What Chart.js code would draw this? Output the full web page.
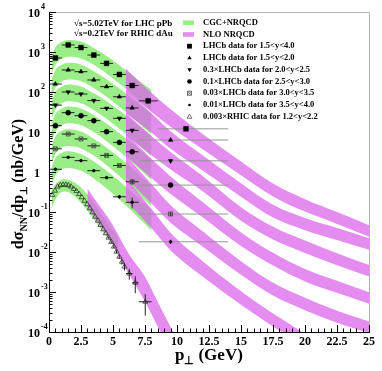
<!DOCTYPE html>
<html><head><meta charset="utf-8">
<script src="https://cdn.jsdelivr.net/npm/chart.js@4.4.1/dist/chart.umd.min.js"></script>
<style>html,body{margin:0;padding:0;background:#fff}#wrap{width:382px;height:371px;position:relative}</style>
</head><body><div id="wrap"><canvas id="c"></canvas></div>
<script>
// ===== data =====
// LHCb p_T bins
const ptS1 = [0.5,1.5,2.5,3.5,4.5,5.5,6.5,7.75,10.7];
const binLoS1 = [0,1,2,3,4,5,6,7,8.5];
const binHiS1 = [1,2,3,4,5,6,7,8.5,14];
const ptBins = [0.5,1.5,2.5,3.5,4.5,5.5,6.5,9.5];
const binLo = [0,1,2,3,4,5,6,7];
const binHi = [1,2,3,4,5,6,7,14];
// dσ/dp⊥ (nb/GeV)
const lhcb15to40 = [708,1500,1290,840,520,275,145,60,12];
const lhcb15to20 = [158,355,322,200,136,76,40,6.3];
const lhcb20to25 = [47,100,89,61,39,22,11,1.9];
const lhcb25to30 = [14.4,30.4,25.6,19.2,10.2,5.5,3.2,0.47];
const lhcb30to35 = [3.8,8.9,6.7,4.5,2.6,1.45,0.57,0.089];
const lhcb35to40 = [1.17,2.33,1.92,1.08,0.72,0.24,0.175,0.018];
// relative vertical errors
const errS1 = [0.03,0.03,0.03,0.03,0.03,0.03,0.04,0.05,0.08];
const errS2 = [0.03,0.03,0.03,0.03,0.03,0.04,0.05,0.08];
const errS3 = [0.03,0.03,0.03,0.03,0.03,0.04,0.05,0.08];
const errS4 = [0.03,0.03,0.03,0.03,0.03,0.04,0.05,0.08];
const errS5 = [0.04,0.04,0.04,0.04,0.05,0.06,0.15,0.1];
const errS6 = [0.05,0.05,0.05,0.05,0.06,0.1,0.3,0.12];
// RHIC (x0.003)
const ptRhic = [0.26,0.47,0.68,0.89,1.1,1.31,1.51,1.72,1.94,2.14,2.35,2.56,2.77,2.98,3.19,3.39,3.6,3.82,4.02,4.23,4.44,4.65,4.86,5.07,5.27,5.49,5.7,5.9,6.27,6.74,7.52];
const rhic = [0.266,0.34,0.43,0.47,0.48,0.48,0.465,0.43,0.376,0.335,0.28,0.233,0.19,0.156,0.124,0.098,0.076,0.0606,0.0473,0.0369,0.0293,0.0228,0.0178,0.0136,0.0102,0.0076,0.0057,0.0043,0.0029,0.0017,0.00057];
const errRhic = [0,0,0,0,0,0,0,0,0,0,0,0,0,0,0,0,0,0,0,0,0,0.05,0.06,0.08,0.1,0.12,0.15,0.2,0.3,0.45,0.55];
const xErrRhic = [0,0,0,0,0,0,0,0,0,0,0,0,0,0,0,0,0,0,0,0,0,0,0,0,0,0,0,0,0.25,0.25,0.5];

// CGC+NRQCD bands, log10 of dσ/dp⊥ (nb/GeV)
const cgcPt = [0.2,0.5,1.0,1.5,2.5,3.5,4.5,5.5,6.5,7.5,8.0];
const cgcHiLog1 = [2.88,3.12,3.25,3.30,3.26,3.10,2.90,2.67,2.42,2.17,2.06];
const cgcLoLog1 = [2.44,2.68,2.83,2.88,2.84,2.68,2.46,2.21,1.94,1.67,1.54];
const cgcHiLog2 = [2.30,2.55,2.68,2.73,2.69,2.52,2.32,2.09,1.84,1.58,1.47];
const cgcLoLog2 = [1.86,2.11,2.26,2.31,2.27,2.10,1.88,1.63,1.36,1.08,0.95];
const cgcHiLog3 = [1.75,2.00,2.14,2.19,2.14,1.97,1.77,1.54,1.29,1.03,0.91];
const cgcLoLog3 = [1.31,1.56,1.72,1.77,1.72,1.55,1.33,1.08,0.81,0.53,0.39];
const cgcHiLog4 = [1.20,1.45,1.59,1.64,1.59,1.42,1.21,0.97,0.72,0.45,0.32];
const cgcLoLog4 = [0.76,1.01,1.17,1.22,1.17,1.00,0.77,0.51,0.24,-0.05,-0.20];
const cgcHiLog5 = [0.64,0.89,1.03,1.07,1.01,0.83,0.61,0.36,0.09,-0.20,-0.34];
const cgcLoLog5 = [0.20,0.45,0.61,0.65,0.59,0.41,0.17,-0.10,-0.39,-0.70,-0.86];
const cgcHiLog6 = [0.10,0.35,0.48,0.52,0.45,0.26,0.03,-0.23,-0.51,-0.80,-0.94];
const cgcLoLog6 = [-0.34,-0.09,0.06,0.10,0.03,-0.16,-0.41,-0.69,-0.99,-1.30,-1.46];
const cgcRhicPt = [0.2,0.7,1.25,2.3,3.35,4.4,5.4];
const cgcRhicHiLog = [-0.45,-0.24,-0.18,-0.33,-0.70,-1.20,-1.62];
const cgcRhicLoLog = [-0.90,-0.58,-0.49,-0.70,-1.12,-1.58,-1.95];

// NLO NRQCD bands, log10
const nloPt = [6,8,9.5,12,15,17.5,20,22.5,25];
const nloHiLog1 = [2.58,1.98,1.57,0.95,0.26,-0.29,-0.68,-1.00,-1.33];
const nloLoLog1 = [2.02,1.50,1.13,0.57,-0.08,-0.61,-0.99,-1.30,-1.62];
const nloHiLog2 = [2.03,1.47,1.02,0.42,-0.28,-0.82,-1.15,-1.40,-1.655];
const nloLoLog2 = [1.47,0.99,0.58,0.04,-0.62,-1.14,-1.455,-1.70,-1.945];
const nloHiLog3 = [1.48,0.90,0.50,-0.10,-0.88,-1.37,-1.715,-2.03,-2.325];
const nloLoLog3 = [0.92,0.42,0.06,-0.48,-1.22,-1.69,-2.025,-2.33,-2.615];
const nloHiLog4 = [0.96,0.33,-0.11,-0.75,-1.51,-2.02,-2.425,-2.72,-3.005];
const nloLoLog4 = [0.40,-0.15,-0.55,-1.13,-1.85,-2.34,-2.735,-3.02,-3.295];
const nloHiLog5 = [0.41,-0.30,-0.83,-1.48,-2.23,-2.77,-3.145,-3.47,-3.735];
const nloLoLog5 = [-0.15,-0.78,-1.27,-1.86,-2.57,-3.09,-3.455,-3.77,-4.025];
const nloPt6 = [6,8,9.5,12,15,17.5,20];
const nloHiLog6 = [-0.15,-0.92,-1.52,-2.23,-2.98,-3.54,-4.045];
const nloLoLog6 = [-0.71,-1.40,-1.96,-2.61,-3.32,-3.86,-4.355];
const nloRhicPt = [3.0,4.0,4.9,6.2,7.5,8.5,10.0];
const nloRhicHiLog = [-0.41,-0.87,-1.28,-2.03,-2.62,-3.25,-4.19];
const nloRhicLoLog = [-0.87,-1.33,-1.78,-2.53,-3.24,-3.87,-4.8];

// ticks
const xTicks = [0,2.5,5,7.5,10,12.5,15,17.5,20,22.5,25];
const xTickLabels = ['0','2.5','5','7.5','10','12.5','15','17.5','20','22.5','25'];
const yTicks = [1e-4,1e-3,1e-2,1e-1,1,10,100,1000,10000];
const yTickBase = ['10','10','10','10','1','10','10','10','10'];
const yTickExp = ['-4','-3','-2','-1','','','2','3','4'];

const legendLabels = ['CGC+NRQCD','NLO NRQCD','LHCb data for 1.5<y<4.0','LHCb data for 1.5<y<2.0',
 '0.3\u00d7LHCb data for 2.0<y<2.5','0.1\u00d7LHCb data for 2.5<y<3.0','0.03\u00d7LHCb data for 3.0<y<3.5',
 '0.01\u00d7LHCb data for 3.5<y<4.0','0.003\u00d7RHIC data for 1.2<y<2.2'];

// ===== styles =====
const GREEN = 'rgb(155,238,135)';
const PURPLE = 'rgba(219,102,235,0.75)';
const SERIF = '"Liberation Serif","Times New Roman",serif';

const datasets = [];
function band(pt, loLog, hiLog, color, order){
  datasets.push({data: pt.map((p,i)=>({x:p,y:Math.pow(10,loLog[i])})), borderWidth:0, borderColor:'transparent',
    pointRadius:0, fill:false, order, cubicInterpolationMode:'monotone'});
  datasets.push({data: pt.map((p,i)=>({x:p,y:Math.pow(10,hiLog[i])})), borderWidth:0, borderColor:'transparent',
    pointRadius:0, fill:'-1', backgroundColor:color, order, cubicInterpolationMode:'monotone'});
}
band(cgcPt,cgcLoLog1,cgcHiLog1,GREEN,4);
band(cgcPt,cgcLoLog2,cgcHiLog2,GREEN,4);
band(cgcPt,cgcLoLog3,cgcHiLog3,GREEN,4);
band(cgcPt,cgcLoLog4,cgcHiLog4,GREEN,4);
band(cgcPt,cgcLoLog5,cgcHiLog5,GREEN,4);
band(cgcPt,cgcLoLog6,cgcHiLog6,GREEN,4);
band(cgcRhicPt,cgcRhicLoLog,cgcRhicHiLog,GREEN,4);
band(nloPt,nloLoLog1,nloHiLog1,PURPLE,3);
band(nloPt,nloLoLog2,nloHiLog2,PURPLE,3);
band(nloPt,nloLoLog3,nloHiLog3,PURPLE,3);
band(nloPt,nloLoLog4,nloHiLog4,PURPLE,3);
band(nloPt,nloLoLog5,nloHiLog5,PURPLE,3);
band(nloPt6,nloLoLog6,nloHiLog6,PURPLE,3);
band(nloRhicPt,nloRhicLoLog,nloRhicHiLog,PURPLE,3);

// error bars
const shortBars = [], longBars = [];
function errs(pt, lo, hi, val, err){
  pt.forEach((p,i)=>{
    const v = val[i];
    if (hi[i] - lo[i] > 0) {
      const tgt = (hi[i]-lo[i] > 2) ? longBars : shortBars;
      tgt.push({x:lo[i],y:v},{x:hi[i],y:v},{x:hi[i],y:null});
    }
    if (err[i] > 0) shortBars.push({x:p,y:v*(1-err[i])},{x:p,y:v*(1+err[i])},{x:p,y:null});
  });
}
errs(ptS1,binLoS1,binHiS1,lhcb15to40,errS1);
errs(ptBins,binLo,binHi,lhcb15to20,errS2);
errs(ptBins,binLo,binHi,lhcb20to25,errS3);
errs(ptBins,binLo,binHi,lhcb25to30,errS4);
errs(ptBins,binLo,binHi,lhcb30to35,errS5);
errs(ptBins,binLo,binHi,lhcb35to40,errS6);
errs(ptRhic, ptRhic.map((p,i)=>p-xErrRhic[i]), ptRhic.map((p,i)=>p+xErrRhic[i]), rhic, errRhic);
datasets.push({data:longBars, borderColor:'#959595', borderWidth:1, pointRadius:0, fill:false, spanGaps:false, order:2});
datasets.push({data:shortBars, borderColor:'#222', borderWidth:1, pointRadius:0, fill:false, spanGaps:false, order:1});

function pts(pt, val, style, r, opts){
  datasets.push(Object.assign({data: pt.map((p,i)=>({x:p,y:val[i]})), showLine:false, pointStyle:style,
    pointRadius:r, pointBackgroundColor:'#000', pointBorderColor:'#000', pointBorderWidth:0.5, order:0}, opts||{}));
}
pts(ptS1, lhcb15to40, 'rect', 3.4);
pts(ptBins, lhcb15to20, 'triangle', 2.6);
pts(ptBins, lhcb20to25, 'triangle', 2.6, {pointRotation:180});
pts(ptBins, lhcb25to30, 'circle', 2.5);
pts(ptBins, lhcb30to35, 'rect', 2.8, {pointBackgroundColor:'rgba(0,0,0,0)', pointBorderColor:'#444', pointBorderWidth:0.8});
pts(ptBins, lhcb30to35, 'crossRot', 2.4, {pointBorderColor:'#444', pointBorderWidth:0.8});
pts(ptBins, lhcb35to40, 'circle', 1.4);
pts(ptRhic, rhic, 'triangle', 2.9, {pointBackgroundColor:'rgba(0,0,0,0)', pointBorderColor:'#222', pointBorderWidth:0.7});

// ===== drawing helpers =====
function marker(ctx, kind, x, y){
  ctx.save(); ctx.fillStyle='#000'; ctx.strokeStyle='#222'; ctx.lineWidth=0.8;
  ctx.beginPath();
  if (kind==='rect'){ ctx.fillRect(x-2.4,y-2.4,4.8,4.8); }
  else if (kind==='tri'){ ctx.moveTo(x,y-2.4); ctx.lineTo(x+2.2,y+1.4); ctx.lineTo(x-2.2,y+1.4); ctx.closePath(); ctx.fill(); }
  else if (kind==='triDown'){ ctx.moveTo(x,y+2.4); ctx.lineTo(x+2.2,y-1.4); ctx.lineTo(x-2.2,y-1.4); ctx.closePath(); ctx.fill(); }
  else if (kind==='circle'){ ctx.arc(x,y,2.3,0,Math.PI*2); ctx.fill(); }
  else if (kind==='xbox'){ ctx.strokeStyle='#555'; ctx.strokeRect(x-2,y-2,4,4); ctx.moveTo(x-2,y-2); ctx.lineTo(x+2,y+2); ctx.moveTo(x+2,y-2); ctx.lineTo(x-2,y+2); ctx.stroke(); }
  else if (kind==='dot'){ ctx.arc(x,y,1.3,0,Math.PI*2); ctx.fill(); }
  else if (kind==='triOpen'){ ctx.strokeStyle='#555'; ctx.moveTo(x,y-2.6); ctx.lineTo(x+2.4,y+1.6); ctx.lineTo(x-2.4,y+1.6); ctx.closePath(); ctx.stroke(); }
  ctx.restore();
}

const deco = {
  id:'deco',
  afterDraw(chart){
    const {ctx, chartArea:a} = chart;
    const xs = chart.scales.x, ys = chart.scales.y;
    ctx.save();
    // frame
    ctx.lineWidth = 1;
    ctx.strokeStyle = '#b5b5b5';
    ctx.beginPath(); ctx.moveTo(a.left, a.top+0.5); ctx.lineTo(a.right+0.5, a.top+0.5); ctx.lineTo(a.right+0.5, a.bottom); ctx.stroke();
    ctx.strokeStyle = '#000';
    ctx.beginPath(); ctx.moveTo(a.left+0.5, a.top); ctx.lineTo(a.left+0.5, a.bottom+0.5); ctx.lineTo(a.right+1, a.bottom+0.5); ctx.stroke();
    // x ticks
    ctx.beginPath();
    for (let k=0;k<=50;k++){
      const v = k*0.5, px = Math.round(xs.getPixelForValue(v))+0.5;
      const len = (k%5===0) ? 7 : 3.5;
      ctx.moveTo(px, a.bottom); ctx.lineTo(px, a.bottom-len);
    }
    // y ticks
    for (let d=-4; d<=4; d++){
      const py = Math.round(ys.getPixelForValue(Math.pow(10,d)))+0.5;
      ctx.moveTo(a.left, py); ctx.lineTo(a.left+7, py);
      if (d<4) for (let m=2;m<=9;m++){
        const q = Math.round(ys.getPixelForValue(m*Math.pow(10,d)))+0.5;
        ctx.moveTo(a.left, q); ctx.lineTo(a.left+3.5, q);
      }
    }
    ctx.stroke();
    // x labels
    ctx.fillStyle = '#000';
    ctx.font = 'bold 12px ' + SERIF;
    ctx.textAlign = 'center'; ctx.textBaseline = 'middle';
    xTicks.forEach((v,i)=>{ ctx.fillText(xTickLabels[i], xs.getPixelForValue(v), a.bottom+10); });
    // y labels
    yTicks.forEach((v,i)=>{
      const py = ys.getPixelForValue(v);
      ctx.font = 'bold 12px ' + SERIF; ctx.textAlign='right'; ctx.textBaseline='middle';
      ctx.fillText(yTickBase[i], 40, py+1.5);
      if (yTickExp[i]) { ctx.font='bold 8px ' + SERIF; ctx.textAlign='left'; ctx.fillText(yTickExp[i], 41, py-5); }
    });
    // x title: p⊥ (GeV)
    ctx.textAlign='left'; ctx.textBaseline='alphabetic';
    ctx.font = 'bold 17px ' + SERIF;
    let xx = 175; const by = 360;
    ctx.fillText('p', xx, by); xx += ctx.measureText('p').width;
    ctx.font = 'bold 11px ' + SERIF; ctx.fillText('\u22a5', xx, by+4); xx += ctx.measureText('\u22a5').width + 4;
    ctx.font = 'bold 17px ' + SERIF; ctx.fillText('(GeV)', xx, by);
    // y title (rotated)
    const parts = [['d\u03c3',16,0],['NN',10,4],['/dp',16,0],['\u22a5',10,4],['(nb/GeV)',16,0]];
    let total = 0;
    parts.forEach(p=>{ ctx.font='bold '+p[1]+'px '+SERIF; total += ctx.measureText(p[0]).width + (p[0]==='\u22a5'?3:0); });
    ctx.save(); ctx.translate(23, 184); ctx.rotate(-Math.PI/2);
    let tx = -total/2;
    parts.forEach(p=>{ ctx.font='bold '+p[1]+'px '+SERIF; ctx.fillText(p[0], tx, p[2]); tx += ctx.measureText(p[0]).width + (p[0]==='\u22a5'?3:0); });
    ctx.restore();
    // energy texts
    ctx.font = 'bold 9px ' + SERIF; ctx.textBaseline='middle';
    ctx.fillText('\u221as=5.02TeV for LHC pPb', 74, 23.5);
    ctx.fillText('\u221as=0.2TeV for RHIC dAu', 74, 34);
    // legend
    const lx = 203;
    const kinds = ['green','purple','rect','tri','triDown','circle','xbox','dot','triOpen'];
    legendLabels.forEach((t,i)=>{
      const ly = 22.7 + i*11.75;
      if (kinds[i]==='green'){ ctx.fillStyle=GREEN; ctx.fillRect(183, ly-2.3, 11, 4.6); }
      else if (kinds[i]==='purple'){ ctx.fillStyle=PURPLE; ctx.fillRect(183, ly-2.3, 11, 4.6); }
      else marker(ctx, kinds[i], 189.5, ly);
      ctx.fillStyle='#000'; ctx.font='bold 8.5px ' + SERIF; ctx.textAlign='left'; ctx.textBaseline='middle';
      ctx.fillText(t, lx, ly);
    });
    ctx.restore();
  }
};

new Chart(document.getElementById('c'), {
  type:'line',
  data:{datasets},
  options:{
    responsive:true, maintainAspectRatio:false, animation:false, devicePixelRatio:1,
    layout:{padding:{left:49,right:13,top:12,bottom:39}},
    plugins:{legend:{display:false}, tooltip:{enabled:false}},
    elements:{line:{tension:0}},
    scales:{
      x:{type:'linear', min:0, max:25, display:false},
      y:{type:'logarithmic', min:1e-4, max:1e4, display:false}
    }
  },
  plugins:[deco]
});
</script></body></html>
